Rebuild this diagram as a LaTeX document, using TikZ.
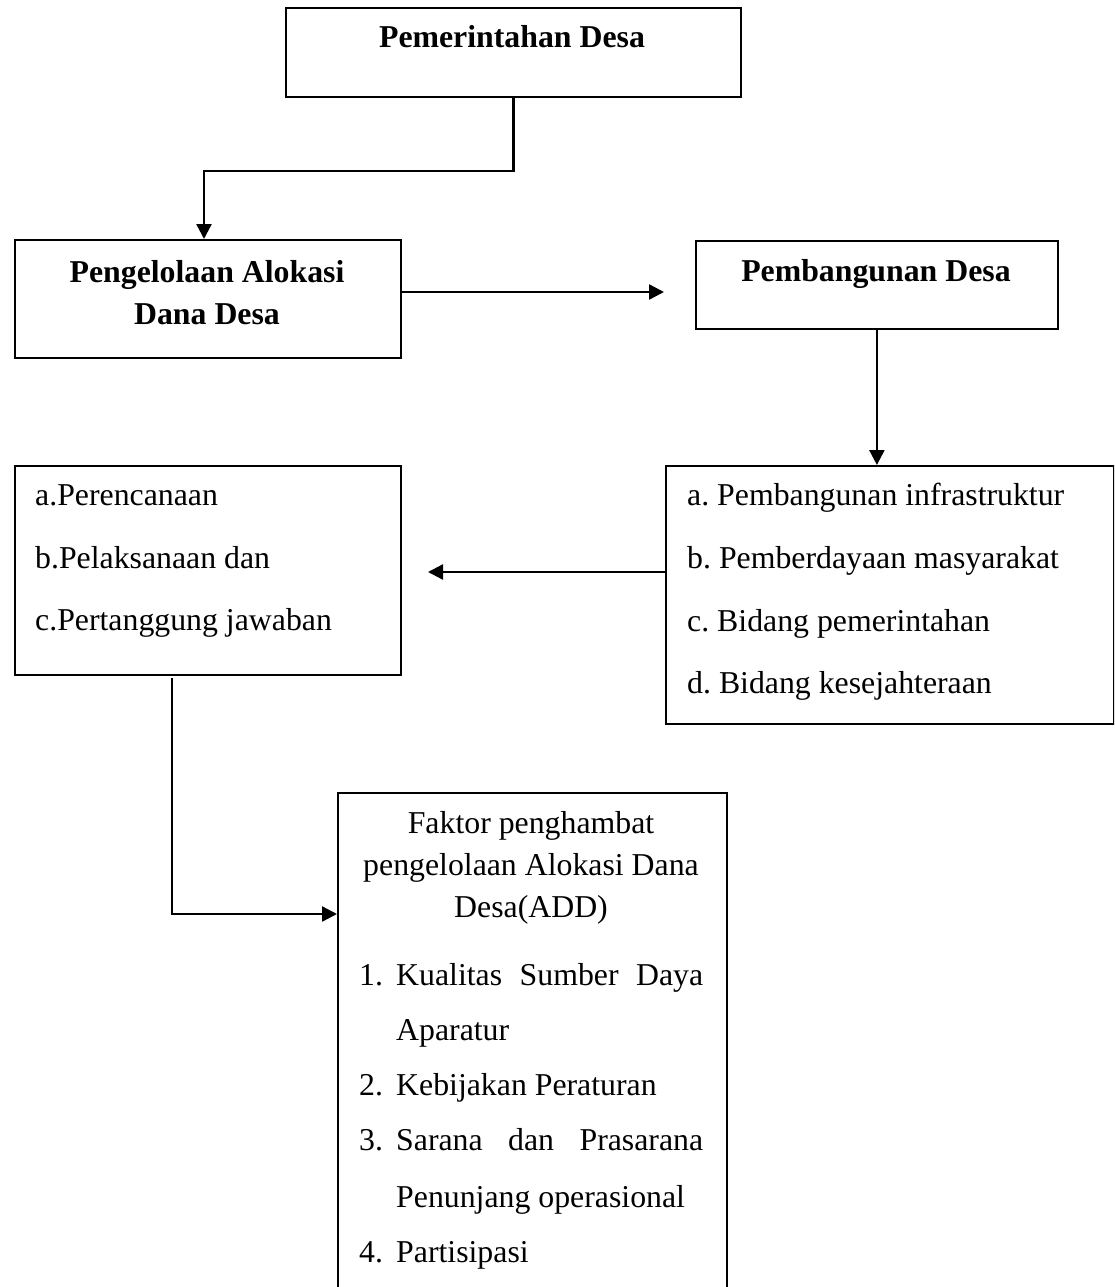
\documentclass[tikz,border=0pt]{standalone}
\usepackage{fontspec}
\setmainfont{Liberation Serif}
\usetikzlibrary{arrows.meta}
\frenchspacing
\newcommand{\fsz}{\fontsize{31.8pt}{38pt}\selectfont}
\begin{document}
\begin{tikzpicture}[x=1pt,y=-1pt,
  box/.style={draw, line width=1.8pt, inner sep=0pt, anchor=north west},
  arr/.style={line width=2.4pt, -{Triangle[length=15pt,width=15pt]}},
  txt/.style={inner sep=0pt, font=\fsz},
  btxt/.style={inner sep=0pt, font=\fsz\bfseries}]
\clip (0,0) rectangle (1114,1287);
\fill[white] (0,0) rectangle (1114,1287);
% boxes
\node[box, minimum width=455pt, minimum height=89pt] (b1) at (285,7) {};
\node[box, minimum width=386pt, minimum height=118pt] (b2) at (14,239) {};
\node[box, minimum width=362pt, minimum height=88pt] (b3) at (695,240) {};
\node[box, minimum width=386pt, minimum height=209pt] (b4) at (14,465) {};
\node[box, minimum width=448pt, minimum height=258pt] (b5) at (665,465) {};
\node[box, minimum width=389pt, minimum height=530pt] (b6) at (337,792) {};
% texts
\node[btxt, anchor=base] (t1) at (512,48) {Pemerintahan Desa};
\node[btxt, anchor=base] (t2a) at (207,282) {Pengelolaan Alokasi};
\node[btxt, anchor=base] (t2b) at (207,324) {Dana Desa};
\node[btxt, anchor=base] (t3) at (876,281) {Pembangunan Desa};
\node[txt, anchor=base west] (t4a) at (35,505) {a.Perencanaan};
\node[txt, anchor=base west] (t4b) at (35,568) {b.Pelaksanaan dan};
\node[txt, anchor=base west] (t4c) at (35,630) {c.Pertanggung jawaban};
\node[txt, anchor=base west] (t5a) at (687,505) {a. Pembangunan infrastruktur};
\node[txt, anchor=base west] (t5b) at (687,568) {b. Pemberdayaan masyarakat};
\node[txt, anchor=base west] (t5c) at (687,631) {c. Bidang pemerintahan};
\node[txt, anchor=base west] (t5d) at (687,693) {d. Bidang kesejahteraan};
\node[txt, anchor=base] (t6a) at (531,833) {Faktor penghambat};
\node[txt, anchor=base] (t6b) at (531,875) {pengelolaan Alokasi Dana};
\node[txt, anchor=base] (t6c) at (531,917) {Desa(ADD)};
\node[txt, anchor=base west] (n1) at (359,985) {1.};
\node[txt, anchor=base west] (l1) at (396,985) {\makebox[307pt][s]{Kualitas Sumber Daya}};
\node[txt, anchor=base west] (l1b) at (396,1040) {Aparatur};
\node[txt, anchor=base west] (n2) at (359,1095) {2.};
\node[txt, anchor=base west] (l2) at (396,1095) {Kebijakan Peraturan};
\node[txt, anchor=base west] (n3) at (359,1150) {3.};
\node[txt, anchor=base west] (l3) at (396,1150) {\makebox[307pt][s]{Sarana dan Prasarana}};
\node[txt, anchor=base west] (l3b) at (396,1207) {Penunjang operasional};
\node[txt, anchor=base west] (n4) at (359,1262) {4.};
\node[txt, anchor=base west] (l4) at (396,1262) {Partisipasi};
% connector coordinates
\coordinate (k1) at (204,171);
\coordinate (e2) at (664,292);
\coordinate (e4) at (428,572);
\coordinate (s5) at (172,678);
\coordinate (e5) at (337,914);
% connectors
\draw[arr] (b1.south) |- (k1) -- (k1 |- b2.north);
\draw[arr] (b2.east |- e2) -- (e2);
\draw[arr] (b3.south) -- (b3.south |- b5.north);
\draw[arr] (b5.west |- e4) -- (e4);
\draw[arr] (s5) |- (b6.west |- e5);
\end{tikzpicture}
\end{document}
